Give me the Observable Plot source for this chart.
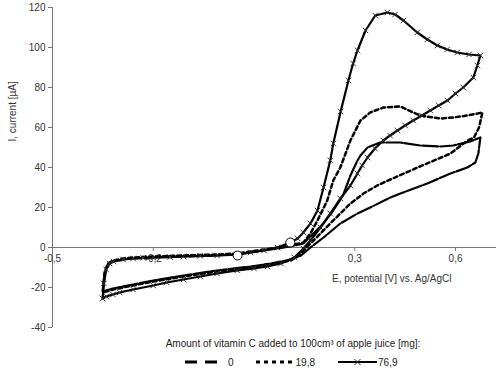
<!DOCTYPE html>
<html>
<head>
<meta charset="utf-8">
<script src="https://cdn.jsdelivr.net/npm/d3@7"></script>
<script src="https://cdn.jsdelivr.net/npm/@observablehq/plot@0.6"></script>
<style>
  body { margin: 0; background: #fff; font-family: "Liberation Sans", Arial, sans-serif; }
  #chart { position: relative; width: 500px; height: 381px; }
  #legend { position: absolute; left: 0; top: 335px; width: 500px; height: 46px; font-size: 10px; color: #222; }
  #legend .title { position: absolute; left: 86px; right: 0; top: 3px; text-align: center; }
  #legend .row { position: absolute; left: 185px; top: 21px; display: flex; align-items: center; height: 12px; }
  #legend .item { display: flex; align-items: center; }
</style>
</head>
<body>
<div id="chart"></div>
<script>
// ---- data ----
const seriesNames = ["0", "19,8", "76,9"];

const E_0 = [-0.45, -0.445, -0.435, -0.42, -0.39, -0.36, -0.30, -0.21, -0.11, -0.05, -0.01, 0.05, 0.09, 0.12, 0.147, 0.177, 0.207, 0.236, 0.265, 0.287, 0.308, 0.317, 0.338, 0.376, 0.436, 0.495, 0.555, 0.593, 0.644, 0.674, 0.668, 0.659, 0.635, 0.585, 0.516, 0.436, 0.406, 0.346, 0.308, 0.257, 0.207, 0.168, 0.14, 0.11, 0.05, -0.01, -0.11, -0.21, -0.30, -0.36, -0.42, -0.45, -0.45];
const I_0 = [-21, -13, -8.5, -7, -6, -5.5, -5, -4.5, -4, -3.5, -2.5, -1, 0, 1, 2, 7, 12, 18.5, 26, 36, 43.5, 46, 50, 52.5, 52.5, 51, 50.5, 51, 53, 55, 47, 42.5, 40, 37, 32, 27, 25, 20, 17, 12, 5, 0, -4, -6, -8, -9.5, -11.5, -14, -16.5, -18.5, -20.5, -22, -21];

const E_1 = [-0.45, -0.445, -0.435, -0.42, -0.39, -0.36, -0.30, -0.21, -0.11, -0.05, -0.01, 0.05, 0.09, 0.12, 0.147, 0.168, 0.189, 0.218, 0.236, 0.257, 0.287, 0.317, 0.346, 0.385, 0.436, 0.474, 0.495, 0.555, 0.593, 0.635, 0.68, 0.67, 0.655, 0.636, 0.585, 0.487, 0.406, 0.367, 0.326, 0.287, 0.257, 0.227, 0.198, 0.168, 0.14, 0.11, 0.05, -0.01, -0.11, -0.21, -0.30, -0.36, -0.42, -0.45, -0.45];
const I_1 = [-21.5, -12.5, -8, -6.5, -5.5, -5, -4.5, -4, -3.5, -3, -2, -0.5, 0.5, 1.5, 2.5, 7, 13.5, 23.5, 33.5, 40, 53.5, 63.5, 67.5, 70, 70.5, 67.5, 66, 64.5, 65, 66, 67.5, 60, 55, 53.5, 47, 40, 34, 31, 27, 22, 17, 12, 7, 2, -3, -6.5, -8.5, -10, -12, -14.5, -17, -19, -21, -22.5, -21.5];

const E_2 = [-0.451, -0.447, -0.44, -0.43, -0.418, -0.39, -0.36, -0.33, -0.30, -0.25, -0.21, -0.16, -0.11, -0.05, -0.01, 0.03, 0.07, 0.108, 0.13, 0.147, 0.168, 0.189, 0.207, 0.227, 0.236, 0.258, 0.281, 0.295, 0.308, 0.332, 0.361, 0.397, 0.42, 0.445, 0.486, 0.516, 0.546, 0.575, 0.605, 0.64, 0.674,
             0.665, 0.653, 0.623, 0.6, 0.576, 0.55, 0.525, 0.5, 0.474, 0.45, 0.427, 0.405, 0.385, 0.36, 0.338, 0.322, 0.308, 0.287, 0.257, 0.227, 0.198, 0.168, 0.147, 0.12, 0.08, 0.04, 0.0, -0.05, -0.11, -0.16, -0.21, -0.26, -0.30, -0.36, -0.40, -0.42, -0.44, -0.451];
const I_2 = [-25.5, -18, -11, -8, -7, -6, -5.5, -5.2, -5, -4.8, -4.5, -4.2, -4, -3.5, -2.5, -1.5, 0, 2.5, 4.5, 7.5, 12, 18.5, 30, 43.5, 52, 68, 83.5, 92, 98.5, 108.5, 116, 117.5, 116.5, 113.5, 107.5, 104, 101, 99, 97.5, 96.5, 96,
             91, 85, 80, 77, 73.5, 71, 68.5, 66, 63.5, 61, 58.5, 56, 53.5, 49.5, 45, 41, 37, 31, 24.5, 17, 10, 3.5, -0.5, -5, -8, -9.5, -10.5, -11.5, -13, -14.5, -16, -17.5, -19, -21, -22.5, -23.5, -24.5, -25.5];

// open circle markers seen on the curves
const circleE = [0.108, -0.049];
const circleI = [2.5, -4];

// axes
const xTicks = [-0.6, -0.3, 0.3, 0.6];
const xTickLabels = ["-0,5", "-0,2", "0,3", "0,6"];
const yTicks = [-40, -20, 0, 20, 40, 60, 80, 100, 120];
const xDomain = [-0.6, 0.722];
const yDomain = [-40, 120];
const xTitle = "E, potential [V] vs. Ag/AgCl";
const yTitle = "I, current [µA]";
const legendTitle = "Amount of vitamin C added to 100cm³ of apple juice [mg]:";

// ---- build ----
const zip = (E, I) => E.map((e, i) => ({E: e, I: I[i]}));
const d0 = zip(E_0, I_0), d1 = zip(E_1, I_1), d2 = zip(E_2, I_2);
const circles = zip(circleE, circleI);

const W = 500, H = 335, mT = 7, mB = 8, mL = 52, mR = 4;
// shift to put the x axis at I = 0
const innerH = H - mT - mB;
const yZeroPx = mT + (yDomain[1] - 0) / (yDomain[1] - yDomain[0]) * innerH;
const dyAxis = yZeroPx - (H - mB);

const styles = [
  {dash: "16,2", width: 2.2},
  {dash: "4,3", width: 2.5},
  {dash: null, width: 2.2}
];

const plot = Plot.plot({
  width: W, height: H,
  marginTop: mT, marginBottom: mB, marginLeft: mL, marginRight: mR,
  style: {fontFamily: "'Liberation Sans', Arial, sans-serif", fontSize: "10px", color: "#333", background: "#fff"},
  x: {domain: xDomain, axis: null},
  y: {domain: yDomain, axis: null},
  marks: [
    Plot.ruleX([xDomain[0]], {stroke: "#777", strokeWidth: 1}),
    Plot.ruleY([0], {stroke: "#777", strokeWidth: 1}),
    Plot.axisY({ticks: yTicks, tickFormat: (d) => String(d), tickSize: 4, tickPadding: 3, stroke: "#777", label: null, fontSize: 10}),
    Plot.axisX({ticks: xTicks, tickFormat: (d) => xTickLabels[xTicks.indexOf(d)], tickSize: 4, tickPadding: 3, dy: dyAxis, stroke: "#777", label: null, fontSize: 10}),
    Plot.line(d0, {x: "E", y: "I", stroke: "#000", strokeWidth: styles[0].width, strokeDasharray: styles[0].dash}),
    Plot.line(d1, {x: "E", y: "I", stroke: "#000", strokeWidth: styles[1].width, strokeDasharray: styles[1].dash}),
    Plot.line(d2, {x: "E", y: "I", stroke: "#000", strokeWidth: styles[2].width}),
    Plot.dot(d2, {x: "E", y: "I", symbol: "times", r: 2.6, stroke: "#333", strokeWidth: 1}),
    Plot.dot(circles, {x: "E", y: "I", r: 4.5, fill: "#fff", stroke: "#000", strokeWidth: 1}),
    Plot.text([yTitle], {frameAnchor: "left", y: 53, dx: -40, rotate: -90, fontSize: 10, fill: "#333"}),
    Plot.text([xTitle], {x: 0.41, y: -15.5, fontSize: 10, fill: "#333"})
  ]
});

const chart = document.getElementById("chart");
chart.appendChild(plot);

// legend below the svg
const legend = document.createElement("div");
legend.id = "legend";
const t = document.createElement("div");
t.className = "title";
t.textContent = legendTitle;
legend.appendChild(t);
const row = document.createElement("div");
row.className = "row";
const ns = "http://www.w3.org/2000/svg";
const sampleW = [38, 37, 39];
const gaps = [22, 23, 0];
seriesNames.forEach((name, i) => {
  const item = document.createElement("div");
  item.className = "item";
  item.style.marginRight = gaps[i] + "px";
  const s = document.createElementNS(ns, "svg");
  s.setAttribute("width", sampleW[i]);
  s.setAttribute("height", 10);
  const ln = document.createElementNS(ns, "line");
  ln.setAttribute("x1", 0); ln.setAttribute("x2", sampleW[i]);
  ln.setAttribute("y1", 5); ln.setAttribute("y2", 5);
  ln.setAttribute("stroke", "#000");
  if (i === 0) { ln.setAttribute("stroke-width", 3); ln.setAttribute("stroke-dasharray", "12,8"); }
  if (i === 1) { ln.setAttribute("stroke-width", 3); ln.setAttribute("stroke-dasharray", "4,4"); }
  if (i === 2) { ln.setAttribute("stroke-width", 2); }
  s.appendChild(ln);
  if (i === 2) {
    const c = sampleW[i] / 2;
    [[-3, -3, 3, 3], [-3, 3, 3, -3]].forEach(([a, b, c2, d]) => {
      const x = document.createElementNS(ns, "line");
      x.setAttribute("x1", c + a); x.setAttribute("y1", 5 + b);
      x.setAttribute("x2", c + c2); x.setAttribute("y2", 5 + d);
      x.setAttribute("stroke", "#333"); x.setAttribute("stroke-width", 1);
      s.appendChild(x);
    });
  }
  item.appendChild(s);
  const lab = document.createElement("span");
  lab.textContent = name;
  lab.style.marginLeft = (i === 0 ? 5 : i === 1 ? 3 : 1) + "px";
  item.appendChild(lab);
  row.appendChild(item);
});
legend.appendChild(row);
chart.appendChild(legend);
</script>
</body>
</html>
